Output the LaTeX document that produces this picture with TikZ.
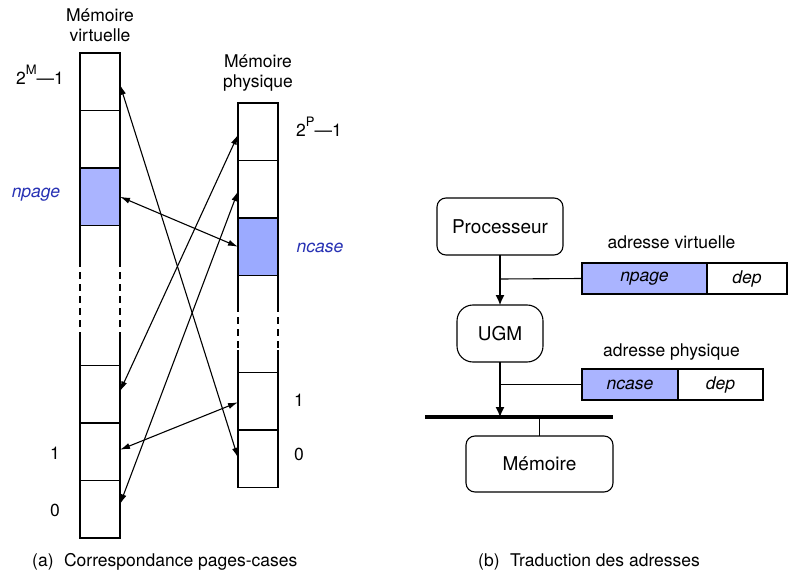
\documentclass[tikz,border=0pt]{standalone}
\usepackage{fontspec}
\setmainfont{TeX Gyre Heros}
\usetikzlibrary{arrows.meta}
\definecolor{vblue}{RGB}{170,180,255}
\definecolor{pblue}{RGB}{155,170,255}
\definecolor{lblue}{RGB}{40,50,180}
\tikzset{
  cell/.style={draw, line width=1.1pt, minimum width=40pt, minimum height=57.5pt, inner sep=0pt, outer sep=0pt, anchor=north west},
  side/.style={line width=1.1pt},
  dside/.style={line width=1.1pt, dash pattern=on 7pt off 5pt},
  map/.style={line width=1.1pt, {Latex[length=10pt,width=6pt]}-{Latex[length=10pt,width=6pt]}},
  lbl/.style={font=\fontsize{17.5}{20}\selectfont, inner sep=0pt, anchor=base},
  blbl/.style={lbl, text=lblue, font=\fontsize{17.5}{20}\selectfont\itshape},
  unit/.style={draw, line width=1.1pt, rounded corners=9pt, font=\fontsize{19}{22}\selectfont, inner sep=0pt, outer sep=0pt},
  field/.style={draw, line width=1.1pt, minimum height=31pt, inner sep=0pt, outer sep=0pt, font=\fontsize{17.5}{20}\selectfont\itshape},
  wire/.style={line width=1.1pt},
  flow/.style={line width=1.1pt, -{Latex[length=10pt,width=9pt]}}
}
\newcommand{\supsc}[1]{\raisebox{10pt}{\fontsize{13}{14}\selectfont #1}}
\begin{document}
\begin{tikzpicture}[x=1pt,y=-1pt]
\useasboundingbox (0,0) rectangle (789,577);
% ---- (a) virtual memory
\node[cell] (vtop) at (80,53) {};
\node[cell] (vsec) at (80,110.5) {};
\node[cell, fill=vblue] (vpage) at (80,168) {};
\node[cell] (vc2) at (80,365.5) {};
\node[cell] (vc1) at (80,423) {};
\node[cell] (vc0) at (80,480.5) {};
\coordinate (va1) at (80,260); \coordinate (va2) at (80,332);
\coordinate (vb1) at (120,260); \coordinate (vb2) at (120,332);
\draw[side] (vpage.south west) -- (va1) (vpage.south east) -- (vb1);
\draw[dside] (va1) -- (va2) (vb1) -- (vb2);
\draw[side] (va2) -- (vc2.north west) (vb2) -- (vc2.north east);
% ---- physical memory
\node[cell] (ptop) at (238,103) {};
\node[cell] (psec) at (238,160.5) {};
\node[cell, fill=pblue] (pcase) at (238,218) {};
\node[cell] (pc1) at (238,372.5) {};
\node[cell] (pc0) at (238,430) {};
\coordinate (pa1) at (238,305); \coordinate (pa2) at (238,350);
\coordinate (pb1) at (278,305); \coordinate (pb2) at (278,350);
\draw[side] (pcase.south west) -- (pa1) (pcase.south east) -- (pb1);
\draw[dside] (pa1) -- (pa2) (pb1) -- (pb2);
\draw[side] (pa2) -- (pc1.north west) (pb2) -- (pc1.north east);
% ---- labels (a)
\node[lbl] (tv1) at (100,22) {Mémoire};
\node[lbl] (tv2) at (100,42) {virtuelle};
\node[lbl] (tp1) at (258,68) {Mémoire};
\node[lbl] (tp2) at (258,88) {physique};
\node[lbl] (tvm) at (40,85) {2\supsc{M}\textemdash1};
\node[lbl] (tpm) at (319,137) {2\supsc{P}\textemdash1};
\node[blbl] (tnp) at (36,198) {npage};
\node[blbl] (tnc) at (320,252) {ncase};
\node[lbl] (tv1n) at (55,459) {1};
\node[lbl] (tv0n) at (55,516) {0};
\node[lbl] (tp1n) at (299,406) {1};
\node[lbl] (tp0n) at (299,460) {0};
% ---- mapping arrows
\draw[map] ([yshift=-3pt]vtop.east) -- ([yshift=1pt]pc0.west);
\draw[map] ([yshift=0pt]vpage.east) -- ([yshift=0pt]pcase.west);
\draw[map] ([yshift=3pt]vc2.east) -- ([yshift=-3pt]ptop.west);
\draw[map] ([yshift=5pt]vc0.east) -- ([yshift=-2pt]psec.west);
\draw[map] ([yshift=2pt]vc1.east) -- ([yshift=-1pt]pc1.west);
% ---- (b)
\node[unit, minimum width=126pt, minimum height=57pt] (proc) at (500,226.5) {Processeur};
\node[unit, rounded corners=16pt, minimum width=86pt, minimum height=57pt] (ugm) at (500,333.5) {UGM};
\node[unit, minimum width=147pt, minimum height=56pt] (mem) at (539.5,464) {Mémoire};
\node[field, fill=vblue, minimum width=125pt, anchor=west] (vnp) at (582,278.5) {npage};
\node[field, minimum width=80pt, anchor=west] (vdep) at (vnp.east) {dep};
\node[field, fill=vblue, minimum width=96pt, anchor=west] (pnc) at (582,384.5) {ncase};
\node[field, minimum width=85pt, anchor=west] (pdep) at (pnc.east) {dep};
\node[lbl] (tav) at (671.5,248) {adresse virtuelle};
\node[lbl] (tap) at (671.5,356) {adresse physique};
\coordinate (busL) at (425,417);
\coordinate (busR) at (613,417);
\coordinate (busA) at (500,417);
\coordinate (busM) at (539.5,417);
\coordinate (j1) at (500,279);
\coordinate (j2) at (500,384.5);
\draw[line width=3.2pt] (busL) -- (busR);
\draw[flow] (proc.south) -- (ugm.north);
\draw[wire] (j1) -- (vnp.west);
\draw[flow] (ugm.south) -- (busA);
\draw[wire] (j2) -- (pnc.west);
\draw[wire] (busM) -- (mem.north);
% ---- captions
\node[lbl, anchor=base west] (capa) at (32,566) {(a)\hspace{0.6em}Correspondance pages-cases};
\node[lbl, anchor=base west] (capb) at (478,566) {(b)\hspace{0.6em}Traduction des adresses};
\end{tikzpicture}
\end{document}
